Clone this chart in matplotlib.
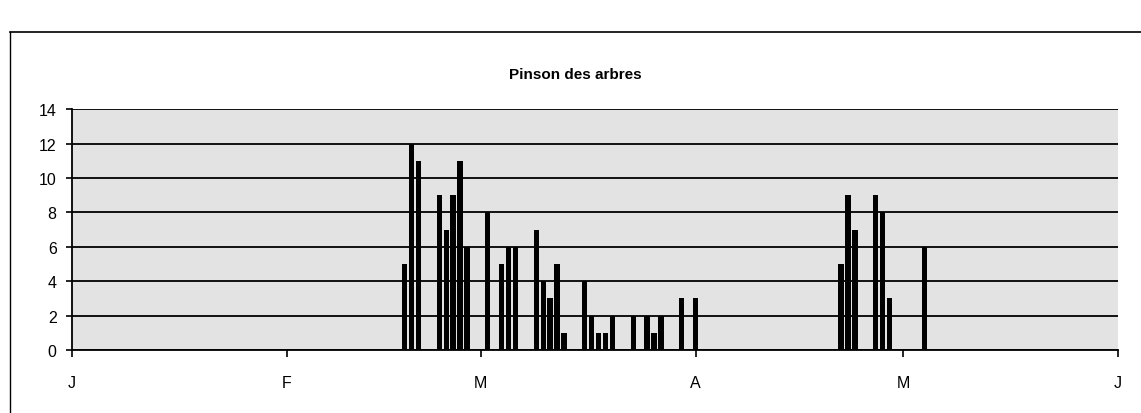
import matplotlib
matplotlib.use("Agg")
import matplotlib.pyplot as plt
import matplotlib.dates as mdates
from matplotlib.lines import Line2D
import numpy as np

# daily counts (Pinson des arbres)
obs_dates = [
    "02-18", "02-19", "02-20", "02-23", "02-24", "02-25", "02-26", "02-27",
    "03-02", "03-04", "03-05", "03-06", "03-09", "03-10", "03-11", "03-12",
    "03-13", "03-16", "03-17", "03-18", "03-19", "03-20", "03-23", "03-25",
    "03-26", "03-27", "03-30", "04-01", "04-22", "04-23", "04-24", "04-27",
    "04-28", "04-29", "05-04",
]
counts = [
    5, 12, 11, 9, 7, 9, 11, 6,
    8, 5, 6, 6, 7, 4, 3, 5,
    1, 4, 2, 1, 1, 2, 2, 2,
    1, 2, 3, 3, 5, 9, 7, 9,
    8, 3, 6,
]
month_initials = ["J", "F", "M", "A", "M", "J"]
y_ticks = [0, 2, 4, 6, 8, 10, 12, 14]

YEAR = 2007
dates = np.array([np.datetime64(f"{YEAR}-{d}") for d in obs_dates])

plt.rcParams["font.family"] = ["Liberation Sans", "DejaVu Sans"]

fig = plt.figure(figsize=(11.41, 4.14), dpi=100)
ax = fig.add_axes([0.0631, 0.152, 0.9169, 0.582])

ax.set_facecolor("#e3e3e3")
ax.bar(dates, counts, width=0.75, color="black", zorder=3, linewidth=0)

ax.set_xlim(np.datetime64(f"{YEAR}-01-01"), np.datetime64(f"{YEAR}-06-01"))
ax.set_ylim(0, 14)
ax.set_yticks(y_ticks)
ax.yaxis.grid(True, color="black", linewidth=1.3, zorder=1)
ax.set_axisbelow(True)

ax.xaxis.set_major_locator(mdates.MonthLocator())
ax.xaxis.set_major_formatter(
    plt.FuncFormatter(lambda v, pos: month_initials[mdates.num2date(v).month - 1])
)

for side in ("top", "right"):
    ax.spines[side].set_visible(False)
ax.spines["left"].set_linewidth(1.3)
ax.spines["bottom"].set_linewidth(1.3)

ax.tick_params(axis="x", direction="out", length=5, width=1.2, pad=13, labelsize=11.5)
ax.tick_params(axis="y", direction="out", length=4, width=1.2, pad=7, labelsize=11.5)

fig.text(0.504, 0.818, "Pinson des arbres", ha="center", va="center",
         fontsize=11, fontweight="bold")

# chart frame
fig.add_artist(Line2D([10 / 1141, 1.0], [1 - 33 / 414] * 2, color="black", linewidth=1.2))
fig.add_artist(Line2D([10 / 1141] * 2, [0.0, 1 - 33 / 414], color="black", linewidth=1.0))

fig.savefig("out.png", dpi=100)
